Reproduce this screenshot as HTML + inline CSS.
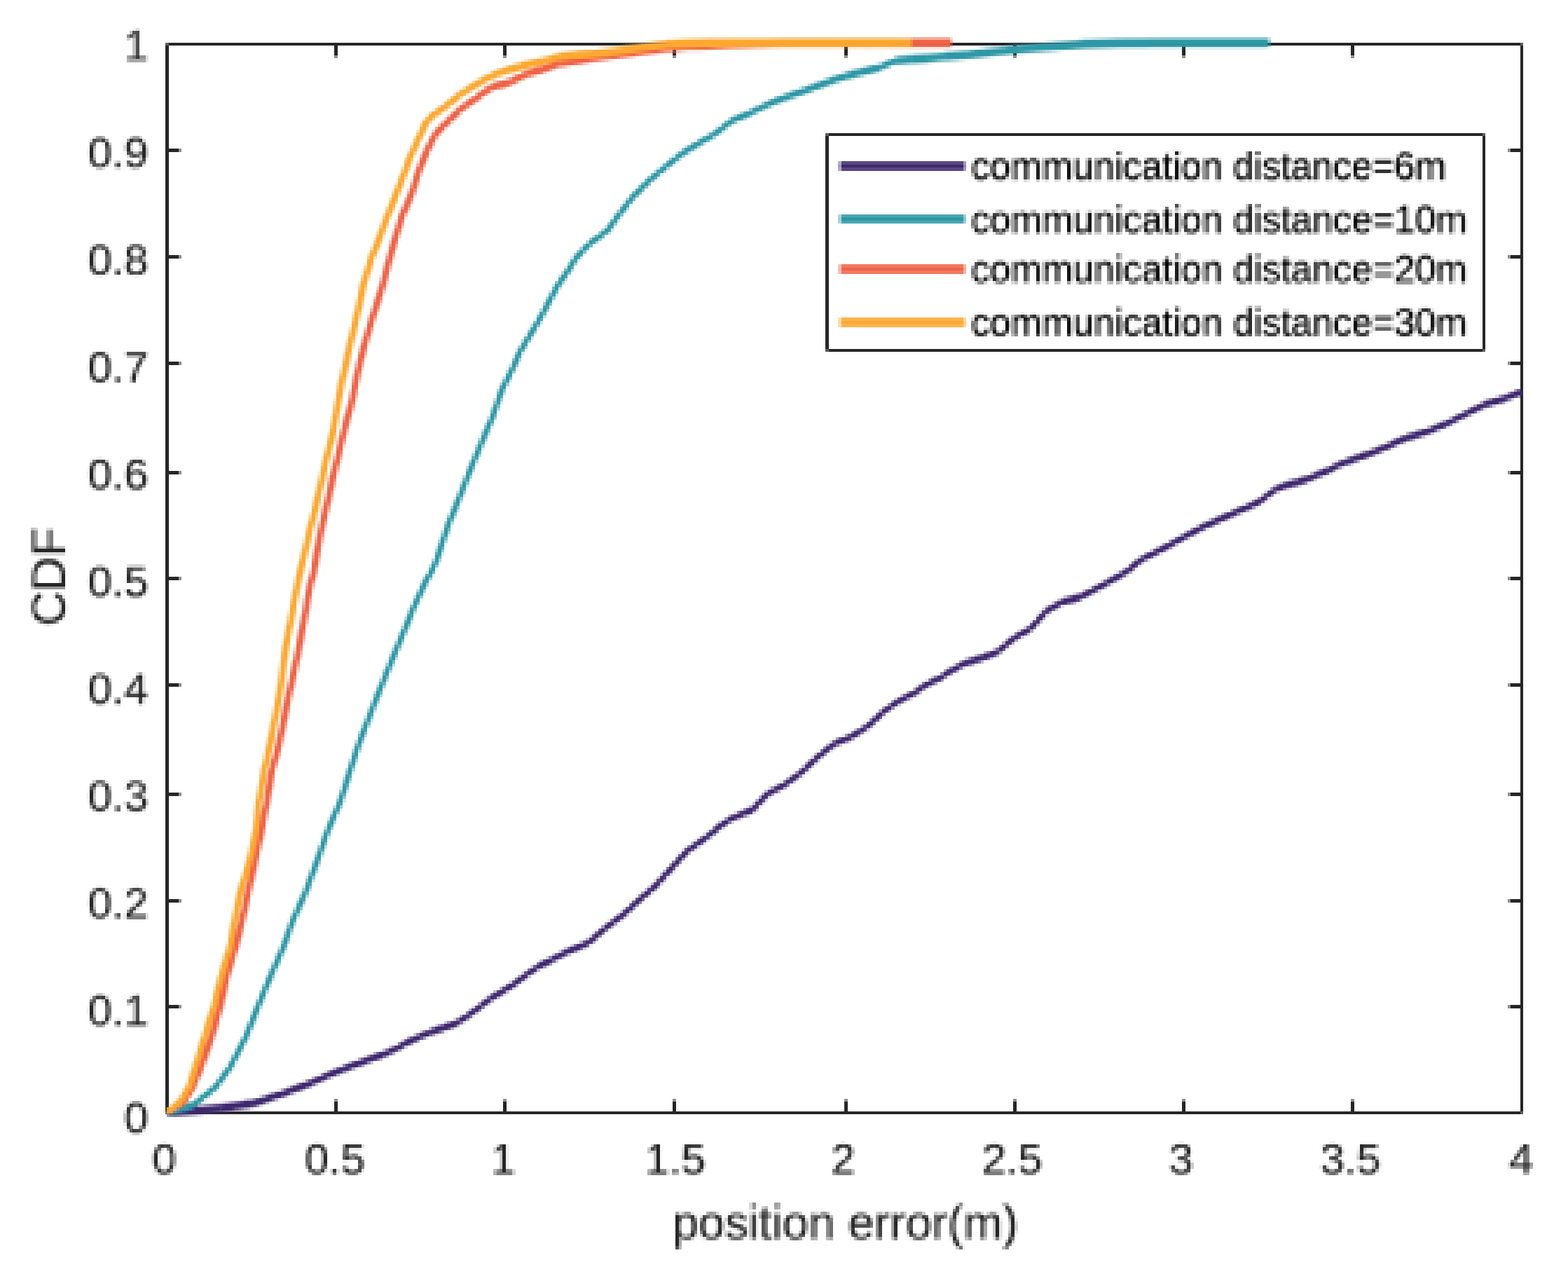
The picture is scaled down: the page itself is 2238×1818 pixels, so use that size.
<!DOCTYPE html>
<html lang="en"><head><meta charset="utf-8"><title>CDF of position error</title>
<style>html,body{margin:0;padding:0;background:#fff}body{width:2238px;height:1818px;overflow:hidden}svg{display:block}text{font-family:"Liberation Sans",Arial,Helvetica,sans-serif}</style>
</head><body>
<svg xmlns="http://www.w3.org/2000/svg" width="2238" height="1818" viewBox="0 0 2238 1818">
<defs>
<filter id="pix" x="0" y="0" width="2244" height="1826" filterUnits="userSpaceOnUse" primitiveUnits="userSpaceOnUse" color-interpolation-filters="sRGB">
<feConvolveMatrix in="SourceGraphic" order="5" kernelMatrix="1 1 1 1 1 1 1 1 1 1 1 1 1 1 1 1 1 1 1 1 1 1 1 1 1" divisor="25" edgeMode="none" preserveAlpha="false" result="avg"/>
<feFlood x="2" y="0" width="1" height="22" flood-color="#000" flood-opacity="1" result="v0"/>
<feFlood x="0" y="2" width="22" height="1" flood-color="#000" flood-opacity="1" result="h0"/>
<feFlood x="7" y="0" width="1" height="22" flood-color="#000" flood-opacity="1" result="v1"/>
<feFlood x="0" y="7" width="22" height="1" flood-color="#000" flood-opacity="1" result="h1"/>
<feFlood x="11" y="0" width="1" height="22" flood-color="#000" flood-opacity="1" result="v2"/>
<feFlood x="0" y="11" width="22" height="1" flood-color="#000" flood-opacity="1" result="h2"/>
<feFlood x="15" y="0" width="1" height="22" flood-color="#000" flood-opacity="1" result="v3"/>
<feFlood x="0" y="15" width="22" height="1" flood-color="#000" flood-opacity="1" result="h3"/>
<feFlood x="20" y="0" width="1" height="22" flood-color="#000" flood-opacity="1" result="v4"/>
<feFlood x="0" y="20" width="22" height="1" flood-color="#000" flood-opacity="1" result="h4"/>
<feMerge x="0" y="0" width="22" height="22" result="vs"><feMergeNode in="v0"/><feMergeNode in="v1"/><feMergeNode in="v2"/><feMergeNode in="v3"/><feMergeNode in="v4"/></feMerge>
<feMerge x="0" y="0" width="22" height="22" result="hs"><feMergeNode in="h0"/><feMergeNode in="h1"/><feMergeNode in="h2"/><feMergeNode in="h3"/><feMergeNode in="h4"/></feMerge>
<feComposite in="vs" in2="hs" operator="in" x="0" y="0" width="22" height="22" result="cell"/>
<feTile in="cell" result="grid"/>
<feComposite in="avg" in2="grid" operator="in" result="smp"/>
<feMorphology in="smp" operator="dilate" radius="2"/>
</filter>
</defs>
<rect x="0" y="0" width="2238" height="1818" fill="#ffffff"/>
<g id="axes" fill="#262626" shape-rendering="crispEdges">
<rect x="236" y="61" width="5" height="1529"/>
<rect x="2170" y="61" width="4" height="1529"/>
<rect x="236" y="61" width="1938" height="4"/>
<rect x="236" y="1586" width="1938" height="4"/>
<rect x="477" y="1572" width="5" height="14"/><rect x="477" y="1568" width="5" height="4" fill="#919191"/>
<rect x="477" y="65" width="5" height="14"/><rect x="477" y="79" width="5" height="4" fill="#919191"/>
<rect x="718" y="1572" width="5" height="14"/><rect x="718" y="1568" width="5" height="4" fill="#919191"/>
<rect x="718" y="65" width="5" height="14"/><rect x="718" y="79" width="5" height="4" fill="#919191"/>
<rect x="960" y="1572" width="5" height="14"/><rect x="960" y="1568" width="5" height="4" fill="#919191"/>
<rect x="960" y="65" width="5" height="14"/><rect x="960" y="79" width="5" height="4" fill="#919191"/>
<rect x="1205" y="1572" width="5" height="14"/><rect x="1205" y="1568" width="5" height="4" fill="#919191"/>
<rect x="1205" y="65" width="5" height="14"/><rect x="1205" y="79" width="5" height="4" fill="#919191"/>
<rect x="1446" y="1572" width="5" height="14"/><rect x="1446" y="1568" width="5" height="4" fill="#919191"/>
<rect x="1446" y="65" width="5" height="14"/><rect x="1446" y="79" width="5" height="4" fill="#919191"/>
<rect x="1687" y="1572" width="5" height="14"/><rect x="1687" y="1568" width="5" height="4" fill="#919191"/>
<rect x="1687" y="65" width="5" height="14"/><rect x="1687" y="79" width="5" height="4" fill="#919191"/>
<rect x="1928" y="1572" width="5" height="14"/><rect x="1928" y="1568" width="5" height="4" fill="#919191"/>
<rect x="1928" y="65" width="5" height="14"/><rect x="1928" y="79" width="5" height="4" fill="#919191"/>
<rect x="241" y="1434" width="14" height="5"/><rect x="255" y="1434" width="4" height="5" fill="#919191"/>
<rect x="2156" y="1434" width="14" height="5"/><rect x="2152" y="1434" width="4" height="5" fill="#919191"/>
<rect x="241" y="1283" width="14" height="5"/><rect x="255" y="1283" width="4" height="5" fill="#919191"/>
<rect x="2156" y="1283" width="14" height="5"/><rect x="2152" y="1283" width="4" height="5" fill="#919191"/>
<rect x="241" y="1131" width="14" height="5"/><rect x="255" y="1131" width="4" height="5" fill="#919191"/>
<rect x="2156" y="1131" width="14" height="5"/><rect x="2152" y="1131" width="4" height="5" fill="#919191"/>
<rect x="241" y="975" width="14" height="5"/><rect x="255" y="975" width="4" height="5" fill="#919191"/>
<rect x="2156" y="975" width="14" height="5"/><rect x="2152" y="975" width="4" height="5" fill="#919191"/>
<rect x="241" y="823" width="14" height="5"/><rect x="255" y="823" width="4" height="5" fill="#919191"/>
<rect x="2156" y="823" width="14" height="5"/><rect x="2152" y="823" width="4" height="5" fill="#919191"/>
<rect x="241" y="672" width="14" height="5"/><rect x="255" y="672" width="4" height="5" fill="#919191"/>
<rect x="2156" y="672" width="14" height="5"/><rect x="2152" y="672" width="4" height="5" fill="#919191"/>
<rect x="241" y="516" width="14" height="5"/><rect x="255" y="516" width="4" height="5" fill="#919191"/>
<rect x="2156" y="516" width="14" height="5"/><rect x="2152" y="516" width="4" height="5" fill="#919191"/>
<rect x="241" y="364" width="14" height="5"/><rect x="255" y="364" width="4" height="5" fill="#919191"/>
<rect x="2156" y="364" width="14" height="5"/><rect x="2152" y="364" width="4" height="5" fill="#919191"/>
<rect x="241" y="212" width="14" height="5"/><rect x="255" y="212" width="4" height="5" fill="#919191"/>
<rect x="2156" y="212" width="14" height="5"/><rect x="2152" y="212" width="4" height="5" fill="#919191"/>
<rect x="236" y="61" width="5" height="4" fill="#5E5E5E"/>
<rect x="2170" y="61" width="4" height="4" fill="#5E5E5E"/>
<rect x="236" y="1586" width="5" height="4" fill="#5E5E5E"/>
<rect x="2170" y="1586" width="4" height="4" fill="#5E5E5E"/>
</g>
<g id="legend-box" shape-rendering="crispEdges">
<rect x="1178" y="190" width="942" height="312" fill="#ffffff"/>
<rect x="1178" y="190" width="942" height="4" fill="#262626"/>
<rect x="1178" y="498" width="942" height="4" fill="#262626"/>
<rect x="1178" y="190" width="5" height="312" fill="#262626"/>
<rect x="2116" y="190" width="4" height="312" fill="#262626"/>
<rect x="1178" y="190" width="5" height="4" fill="#5E5E5E"/>
<rect x="2116" y="190" width="4" height="4" fill="#5E5E5E"/>
<rect x="1178" y="498" width="5" height="4" fill="#5E5E5E"/>
<rect x="2116" y="498" width="4" height="4" fill="#5E5E5E"/>
<rect x="1201" y="230" width="174" height="5" fill="#594682"/>
<rect x="1196" y="230" width="5" height="5" fill="#B4ACC7"/>
<rect x="1375" y="230" width="4" height="5" fill="#A499BA"/>
<rect x="1201" y="235" width="174" height="4" fill="#3E286E"/>
<rect x="1196" y="235" width="5" height="4" fill="#A89EBE"/>
<rect x="1375" y="235" width="4" height="4" fill="#9589AF"/>
<rect x="1201" y="239" width="174" height="5" fill="#594682"/>
<rect x="1196" y="239" width="5" height="5" fill="#B4ACC7"/>
<rect x="1375" y="239" width="4" height="5" fill="#A499BA"/>
<rect x="1201" y="306" width="174" height="4" fill="#4BA6B2"/>
<rect x="1196" y="306" width="5" height="4" fill="#AED7DC"/>
<rect x="1375" y="306" width="4" height="4" fill="#9CCED5"/>
<rect x="1201" y="310" width="174" height="5" fill="#2E98A6"/>
<rect x="1196" y="310" width="5" height="5" fill="#A1D1D7"/>
<rect x="1375" y="310" width="4" height="5" fill="#8CC6CE"/>
<rect x="1201" y="315" width="174" height="4" fill="#4BA6B2"/>
<rect x="1196" y="315" width="5" height="4" fill="#AED7DC"/>
<rect x="1375" y="315" width="4" height="4" fill="#9CCED5"/>
<rect x="1201" y="377" width="174" height="5" fill="#F27860"/>
<rect x="1196" y="377" width="5" height="5" fill="#F9C2B7"/>
<rect x="1375" y="377" width="4" height="5" fill="#F8B5A8"/>
<rect x="1201" y="382" width="174" height="4" fill="#F06246"/>
<rect x="1196" y="382" width="5" height="4" fill="#F8B8AC"/>
<rect x="1375" y="382" width="4" height="4" fill="#F7A999"/>
<rect x="1201" y="386" width="174" height="5" fill="#F27860"/>
<rect x="1196" y="386" width="5" height="5" fill="#F9C2B7"/>
<rect x="1375" y="386" width="4" height="5" fill="#F8B5A8"/>
<rect x="1201" y="453" width="174" height="5" fill="#FFB44D"/>
<rect x="1196" y="453" width="5" height="5" fill="#FFDDAF"/>
<rect x="1375" y="453" width="4" height="5" fill="#FFD69D"/>
<rect x="1201" y="458" width="174" height="4" fill="#FFA830"/>
<rect x="1196" y="458" width="5" height="4" fill="#FFD8A2"/>
<rect x="1375" y="458" width="4" height="4" fill="#FFCF8D"/>
<rect x="1201" y="462" width="174" height="5" fill="#FFB44D"/>
<rect x="1196" y="462" width="5" height="5" fill="#FFDDAF"/>
<rect x="1375" y="462" width="4" height="5" fill="#FFD69D"/>
</g>
<g id="plot" filter="url(#pix)">
<g id="curves">
<polyline points="238.5,1587.5 255.8,1586.3 273.2,1585.1 294.8,1583.2 316.4,1581.3" fill="none" stroke="#3E286E" stroke-width="11.5" stroke-linejoin="round" stroke-linecap="butt"/>
<polyline points="316.4,1581.3 338.0,1578.3 359.6,1575.2" fill="none" stroke="#3E286E" stroke-width="11.0" stroke-linejoin="round" stroke-linecap="butt"/>
<polyline points="359.6,1575.2 381.2,1568.1 402.8,1561.0" fill="none" stroke="#3E286E" stroke-width="9.5" stroke-linejoin="round" stroke-linecap="butt"/>
<polyline points="402.8,1561.0 424.4,1552.8 446.0,1544.5" fill="none" stroke="#3E286E" stroke-width="9.0" stroke-linejoin="round" stroke-linecap="butt"/>
<polyline points="446.0,1544.5 467.6,1534.7 489.3,1525.9" fill="none" stroke="#3E286E" stroke-width="8.5" stroke-linejoin="round" stroke-linecap="butt"/>
<polyline points="489.3,1525.9 509.6,1518.2 530.0,1510.7 547.0,1504.6" fill="none" stroke="#3E286E" stroke-width="9.0" stroke-linejoin="round" stroke-linecap="butt"/>
<polyline points="547.0,1504.6 564.0,1497.3" fill="none" stroke="#3E286E" stroke-width="8.5" stroke-linejoin="round" stroke-linecap="butt"/>
<polyline points="564.0,1497.3 581.0,1487.7" fill="none" stroke="#3E286E" stroke-width="8.0" stroke-linejoin="round" stroke-linecap="butt"/>
<polyline points="581.0,1487.7 598.5,1479.6 616.0,1472.3" fill="none" stroke="#3E286E" stroke-width="8.5" stroke-linejoin="round" stroke-linecap="butt"/>
<polyline points="616.0,1472.3 633.6,1466.7" fill="none" stroke="#3E286E" stroke-width="9.5" stroke-linejoin="round" stroke-linecap="butt"/>
<polyline points="633.6,1466.7 651.1,1460.1" fill="none" stroke="#3E286E" stroke-width="9.0" stroke-linejoin="round" stroke-linecap="butt"/>
<polyline points="651.1,1460.1 667.4,1449.8" fill="none" stroke="#3E286E" stroke-width="8.0" stroke-linejoin="round" stroke-linecap="butt"/>
<polyline points="667.4,1449.8 683.7,1437.8 700.0,1425.0" fill="none" stroke="#3E286E" stroke-width="7.5" stroke-linejoin="round" stroke-linecap="butt"/>
<polyline points="700.0,1425.0 717.5,1414.3 735.1,1403.3" fill="none" stroke="#3E286E" stroke-width="8.0" stroke-linejoin="round" stroke-linecap="butt"/>
<polyline points="735.1,1403.3 752.7,1389.9 770.2,1378.1" fill="none" stroke="#3E286E" stroke-width="7.5" stroke-linejoin="round" stroke-linecap="butt"/>
<polyline points="770.2,1378.1 787.8,1369.6" fill="none" stroke="#3E286E" stroke-width="8.5" stroke-linejoin="round" stroke-linecap="butt"/>
<polyline points="787.8,1369.6 805.3,1360.2" fill="none" stroke="#3E286E" stroke-width="8.0" stroke-linejoin="round" stroke-linecap="butt"/>
<polyline points="805.3,1360.2 822.8,1352.6 840.4,1345.1" fill="none" stroke="#3E286E" stroke-width="8.5" stroke-linejoin="round" stroke-linecap="butt"/>
<polyline points="840.4,1345.1 859.1,1328.5 873.2,1317.4 887.2,1307.1 898.9,1296.7 910.6,1285.6 922.3,1275.6 934.0,1265.7 945.7,1252.9 957.4,1240.0 969.1,1227.1 980.8,1214.3 992.5,1206.1 1004.2,1197.9 1015.9,1188.9 1027.6,1178.9 1039.3,1170.8" fill="none" stroke="#3E286E" stroke-width="7.5" stroke-linejoin="round" stroke-linecap="butt"/>
<polyline points="1039.3,1170.8 1051.0,1164.9" fill="none" stroke="#3E286E" stroke-width="8.0" stroke-linejoin="round" stroke-linecap="butt"/>
<polyline points="1051.0,1164.9 1062.7,1160.2" fill="none" stroke="#3E286E" stroke-width="8.5" stroke-linejoin="round" stroke-linecap="butt"/>
<polyline points="1062.7,1160.2 1074.4,1155.6" fill="none" stroke="#3E286E" stroke-width="9.0" stroke-linejoin="round" stroke-linecap="butt"/>
<polyline points="1074.4,1155.6 1086.1,1142.6 1097.7,1131.2" fill="none" stroke="#3E286E" stroke-width="7.5" stroke-linejoin="round" stroke-linecap="butt"/>
<polyline points="1097.7,1131.2 1109.4,1125.6 1121.1,1119.1" fill="none" stroke="#3E286E" stroke-width="8.0" stroke-linejoin="round" stroke-linecap="butt"/>
<polyline points="1121.1,1119.1 1132.2,1110.8 1143.4,1102.6 1155.1,1091.5 1166.8,1080.5 1178.5,1071.1 1190.2,1061.7" fill="none" stroke="#3E286E" stroke-width="7.5" stroke-linejoin="round" stroke-linecap="butt"/>
<polyline points="1190.2,1061.7 1201.9,1056.6 1213.6,1052.0" fill="none" stroke="#3E286E" stroke-width="8.5" stroke-linejoin="round" stroke-linecap="butt"/>
<polyline points="1213.6,1052.0 1225.3,1044.9" fill="none" stroke="#3E286E" stroke-width="8.0" stroke-linejoin="round" stroke-linecap="butt"/>
<polyline points="1225.3,1044.9 1237.0,1037.3 1248.7,1027.3 1260.4,1016.0 1272.1,1007.8 1283.8,999.7" fill="none" stroke="#3E286E" stroke-width="7.5" stroke-linejoin="round" stroke-linecap="butt"/>
<polyline points="1283.8,999.7 1307.2,987.8" fill="none" stroke="#3E286E" stroke-width="8.0" stroke-linejoin="round" stroke-linecap="butt"/>
<polyline points="1307.2,987.8 1318.9,978.7" fill="none" stroke="#3E286E" stroke-width="7.5" stroke-linejoin="round" stroke-linecap="butt"/>
<polyline points="1318.9,978.7 1330.6,972.8" fill="none" stroke="#3E286E" stroke-width="8.0" stroke-linejoin="round" stroke-linecap="butt"/>
<polyline points="1330.6,972.8 1342.3,967.3" fill="none" stroke="#3E286E" stroke-width="8.5" stroke-linejoin="round" stroke-linecap="butt"/>
<polyline points="1342.3,967.3 1354.0,959.2" fill="none" stroke="#3E286E" stroke-width="7.5" stroke-linejoin="round" stroke-linecap="butt"/>
<polyline points="1354.0,959.2 1365.7,952.8 1377.4,946.3" fill="none" stroke="#3E286E" stroke-width="8.0" stroke-linejoin="round" stroke-linecap="butt"/>
<polyline points="1377.4,946.3 1389.1,942.7 1400.8,939.2" fill="none" stroke="#3E286E" stroke-width="9.5" stroke-linejoin="round" stroke-linecap="butt"/>
<polyline points="1400.8,939.2 1412.5,934.8" fill="none" stroke="#3E286E" stroke-width="9.0" stroke-linejoin="round" stroke-linecap="butt"/>
<polyline points="1412.5,934.8 1424.2,930.1" fill="none" stroke="#3E286E" stroke-width="8.5" stroke-linejoin="round" stroke-linecap="butt"/>
<polyline points="1424.2,930.1 1435.9,920.2 1447.6,910.3" fill="none" stroke="#3E286E" stroke-width="7.5" stroke-linejoin="round" stroke-linecap="butt"/>
<polyline points="1447.6,910.3 1459.3,903.8 1471.0,897.0" fill="none" stroke="#3E286E" stroke-width="8.0" stroke-linejoin="round" stroke-linecap="butt"/>
<polyline points="1471.0,897.0 1482.7,884.1 1494.4,871.2" fill="none" stroke="#3E286E" stroke-width="7.5" stroke-linejoin="round" stroke-linecap="butt"/>
<polyline points="1494.4,871.2 1506.1,864.8 1517.8,858.4" fill="none" stroke="#3E286E" stroke-width="8.0" stroke-linejoin="round" stroke-linecap="butt"/>
<polyline points="1517.8,858.4 1541.2,852.3" fill="none" stroke="#3E286E" stroke-width="10.0" stroke-linejoin="round" stroke-linecap="butt"/>
<polyline points="1541.2,852.3 1552.9,846.0 1564.6,840.2 1576.3,833.7 1588.0,827.3 1608.0,815.8" fill="none" stroke="#3E286E" stroke-width="8.0" stroke-linejoin="round" stroke-linecap="butt"/>
<polyline points="1608.0,815.8 1628.1,799.0" fill="none" stroke="#3E286E" stroke-width="7.5" stroke-linejoin="round" stroke-linecap="butt"/>
<polyline points="1628.1,799.0 1642.1,791.9 1656.1,784.9 1670.2,777.2 1684.2,769.5 1698.2,761.9 1712.3,754.2" fill="none" stroke="#3E286E" stroke-width="8.0" stroke-linejoin="round" stroke-linecap="butt"/>
<polyline points="1712.3,754.2 1726.3,747.7 1740.4,741.3 1754.4,735.2 1768.4,728.9 1782.5,722.8 1796.5,716.5" fill="none" stroke="#3E286E" stroke-width="8.5" stroke-linejoin="round" stroke-linecap="butt"/>
<polyline points="1796.5,716.5 1807.8,707.9 1819.0,699.1" fill="none" stroke="#3E286E" stroke-width="7.5" stroke-linejoin="round" stroke-linecap="butt"/>
<polyline points="1819.0,699.1 1838.6,691.3" fill="none" stroke="#3E286E" stroke-width="8.5" stroke-linejoin="round" stroke-linecap="butt"/>
<polyline points="1838.6,691.3 1852.7,687.9" fill="none" stroke="#3E286E" stroke-width="10.0" stroke-linejoin="round" stroke-linecap="butt"/>
<polyline points="1852.7,687.9 1866.7,683.6" fill="none" stroke="#3E286E" stroke-width="9.5" stroke-linejoin="round" stroke-linecap="butt"/>
<polyline points="1866.7,683.6 1880.8,677.2" fill="none" stroke="#3E286E" stroke-width="8.5" stroke-linejoin="round" stroke-linecap="butt"/>
<polyline points="1880.8,677.2 1894.8,672.0" fill="none" stroke="#3E286E" stroke-width="9.0" stroke-linejoin="round" stroke-linecap="butt"/>
<polyline points="1894.8,672.0 1908.8,664.2" fill="none" stroke="#3E286E" stroke-width="8.0" stroke-linejoin="round" stroke-linecap="butt"/>
<polyline points="1908.8,664.2 1922.9,658.6" fill="none" stroke="#3E286E" stroke-width="8.5" stroke-linejoin="round" stroke-linecap="butt"/>
<polyline points="1922.9,658.6 1936.9,653.7 1950.9,648.8" fill="none" stroke="#3E286E" stroke-width="9.0" stroke-linejoin="round" stroke-linecap="butt"/>
<polyline points="1950.9,648.8 1965.0,643.2 1979.0,637.6 1993.0,631.2 2007.1,624.9" fill="none" stroke="#3E286E" stroke-width="8.5" stroke-linejoin="round" stroke-linecap="butt"/>
<polyline points="2007.1,624.9 2021.2,620.7 2035.2,616.5" fill="none" stroke="#3E286E" stroke-width="9.5" stroke-linejoin="round" stroke-linecap="butt"/>
<polyline points="2035.2,616.5 2049.2,610.9 2063.2,605.3" fill="none" stroke="#3E286E" stroke-width="8.5" stroke-linejoin="round" stroke-linecap="butt"/>
<polyline points="2063.2,605.3 2077.2,598.2 2091.3,591.2 2105.4,584.2 2119.4,577.2" fill="none" stroke="#3E286E" stroke-width="8.0" stroke-linejoin="round" stroke-linecap="butt"/>
<polyline points="2119.4,577.2 2133.4,573.0 2147.5,568.8" fill="none" stroke="#3E286E" stroke-width="9.5" stroke-linejoin="round" stroke-linecap="butt"/>
<polyline points="2147.5,568.8 2159.8,563.9 2172.0,559.0" fill="none" stroke="#3E286E" stroke-width="8.5" stroke-linejoin="round" stroke-linecap="butt"/>
<polyline points="238.5,1587.5 256.9,1582.5 275.4,1577.6" fill="none" stroke="#2E98A6" stroke-width="10.0" stroke-linejoin="round" stroke-linecap="butt"/>
<polyline points="275.4,1577.6 289.4,1566.0 307.3,1551.6 317.9,1537.2 328.5,1522.8 339.7,1501.2 350.9,1479.6 359.5,1458.0 368.1,1436.4 377.0,1414.8 386.0,1393.2 395.6,1371.6 405.1,1350.0 411.0,1333.0 416.9,1316.0 426.6,1294.4 436.3,1272.8 444.2,1251.2 452.2,1229.6 459.8,1208.0 467.3,1186.4 476.6,1164.8 486.0,1143.2 492.8,1121.6 499.6,1100.0 505.7,1081.0 511.9,1062.0 519.7,1041.7 527.6,1021.5 535.4,1001.2 543.3,981.7 551.1,962.2 559.0,942.7 566.8,924.0 574.7,905.3 582.5,886.6 589.8,867.9 598.6,849.1 607.1,830.4 616.1,815.2 622.9,800.0 628.8,781.9 634.8,763.8 640.8,745.7 648.7,727.6 656.3,708.1 664.0,688.6 671.7,669.1 679.8,649.6 688.0,630.1 696.2,610.6 703.3,594.3 709.8,575.3 716.3,556.2 724.9,539.3 733.4,522.1 741.7,502.6 753.4,483.1 765.0,464.2 776.7,443.5 787.2,423.4 797.8,404.6 809.5,388.2 821.2,369.3 832.9,356.4 844.6,345.2 856.3,337.1 868.0,327.8 880.0,310.7 903.4,280.8 926.8,257.5 950.2,237.9 973.6,219.0" fill="none" stroke="#2E98A6" stroke-width="7.5" stroke-linejoin="round" stroke-linecap="butt"/>
<polyline points="973.6,219.0 997.0,204.6 1020.4,191.1" fill="none" stroke="#2E98A6" stroke-width="8.0" stroke-linejoin="round" stroke-linecap="butt"/>
<polyline points="1020.4,191.1 1043.8,172.7" fill="none" stroke="#2E98A6" stroke-width="7.5" stroke-linejoin="round" stroke-linecap="butt"/>
<polyline points="1043.8,172.7 1067.2,162.8" fill="none" stroke="#2E98A6" stroke-width="8.5" stroke-linejoin="round" stroke-linecap="butt"/>
<polyline points="1067.2,162.8 1090.6,151.5" fill="none" stroke="#2E98A6" stroke-width="8.0" stroke-linejoin="round" stroke-linecap="butt"/>
<polyline points="1090.6,151.5 1114.0,141.4" fill="none" stroke="#2E98A6" stroke-width="8.5" stroke-linejoin="round" stroke-linecap="butt"/>
<polyline points="1114.0,141.4 1137.4,133.2 1160.8,125.0 1184.2,116.0" fill="none" stroke="#2E98A6" stroke-width="9.0" stroke-linejoin="round" stroke-linecap="butt"/>
<polyline points="1184.2,116.0 1207.6,108.4" fill="none" stroke="#2E98A6" stroke-width="9.5" stroke-linejoin="round" stroke-linecap="butt"/>
<polyline points="1207.6,108.4 1231.0,102.6 1254.4,96.7" fill="none" stroke="#2E98A6" stroke-width="10.0" stroke-linejoin="round" stroke-linecap="butt"/>
<polyline points="1254.4,96.7 1277.8,86.8" fill="none" stroke="#2E98A6" stroke-width="8.5" stroke-linejoin="round" stroke-linecap="butt"/>
<polyline points="1277.8,86.8 1301.2,84.5" fill="none" stroke="#2E98A6" stroke-width="11.0" stroke-linejoin="round" stroke-linecap="butt"/>
<polyline points="1301.2,84.5 1324.6,83.3" fill="none" stroke="#2E98A6" stroke-width="11.5" stroke-linejoin="round" stroke-linecap="butt"/>
<polyline points="1324.6,83.3 1348.0,80.9" fill="none" stroke="#2E98A6" stroke-width="11.0" stroke-linejoin="round" stroke-linecap="butt"/>
<polyline points="1348.0,80.9 1364.0,79.8 1380.0,78.6" fill="none" stroke="#2E98A6" stroke-width="11.5" stroke-linejoin="round" stroke-linecap="butt"/>
<polyline points="1380.0,78.6 1393.4,76.8 1406.8,75.0 1430.2,72.7 1453.6,70.3" fill="none" stroke="#2E98A6" stroke-width="11.0" stroke-linejoin="round" stroke-linecap="butt"/>
<polyline points="1453.6,70.3 1476.8,68.5 1500.0,66.8 1523.5,64.9 1547.0,63.0 1570.5,62.2 1594.0,61.5 1612.7,61.3 1631.3,61.2 1650.0,61.0 1673.1,61.0 1696.2,61.0 1719.3,61.0 1742.3,61.0 1765.4,61.0 1788.5,61.0 1811.6,61.0" fill="none" stroke="#2E98A6" stroke-width="11.5" stroke-linejoin="round" stroke-linecap="butt"/>
<polyline points="238.5,1587.5 250.1,1580.3 261.7,1573.2 268.1,1562.4 274.5,1551.6 280.6,1537.2 286.7,1522.8 294.3,1501.2 301.9,1479.6 308.0,1458.0 314.1,1436.4 318.8,1414.8 323.5,1393.2 329.9,1371.6 336.4,1350.0 340.6,1333.0 344.8,1316.0 349.5,1294.4 354.2,1272.8 358.9,1251.2 363.5,1229.6 368.2,1208.0 372.9,1186.4 376.9,1164.8 380.8,1143.2 384.4,1121.6 388.0,1100.0 392.8,1082.2 397.7,1064.4 402.4,1041.0 407.0,1017.6 411.7,994.2 415.6,976.3 419.5,958.3 423.4,940.4 427.3,920.1 431.1,899.9 435.0,879.6 438.7,856.2 443.3,832.8 447.8,816.4 450.3,800.0 454.8,775.9 459.3,751.7 465.0,727.6 470.1,704.2 475.2,680.8 480.9,657.4 485.6,637.9 490.2,618.4 495.0,598.9 500.9,579.4 504.9,559.9 508.8,540.4 513.7,517.0 519.8,493.6 526.5,470.2 533.6,446.8 540.0,427.0 546.2,407.2 551.3,387.4 556.4,367.6 561.9,348.1 567.6,328.6 573.4,309.1 581.2,291.6 588.5,274.0 593.5,257.6 598.7,241.2 604.5,227.1 610.3,213.1 616.1,201.4 622.9,189.7 633.2,179.2 638.7,174.1 648.0,164.9 657.4,155.7 669.1,147.6 680.8,139.4 692.5,130.3" fill="none" stroke="#F06246" stroke-width="8.5" stroke-linejoin="round" stroke-linecap="butt"/>
<polyline points="692.5,130.3 704.2,123.7" fill="none" stroke="#F06246" stroke-width="9.0" stroke-linejoin="round" stroke-linecap="butt"/>
<polyline points="704.2,123.7 727.6,117.4" fill="none" stroke="#F06246" stroke-width="10.0" stroke-linejoin="round" stroke-linecap="butt"/>
<polyline points="727.6,117.4 739.3,111.6 751.0,105.6" fill="none" stroke="#F06246" stroke-width="9.0" stroke-linejoin="round" stroke-linecap="butt"/>
<polyline points="751.0,105.6 774.4,99.1" fill="none" stroke="#F06246" stroke-width="10.0" stroke-linejoin="round" stroke-linecap="butt"/>
<polyline points="774.4,99.1 797.8,90.5" fill="none" stroke="#F06246" stroke-width="9.5" stroke-linejoin="round" stroke-linecap="butt"/>
<polyline points="797.8,90.5 821.2,86.8 844.6,82.7 868.0,79.8 884.0,77.4 900.0,75.1 916.7,72.9 933.3,70.8 950.0,68.7" fill="none" stroke="#F06246" stroke-width="11.0" stroke-linejoin="round" stroke-linecap="butt"/>
<polyline points="950.0,68.7 966.7,67.2 983.3,65.6 1000.0,65.8 1044.0,63.3 1081.0,62.0 1120.0,61.0 1150.0,61.0 1173.0,61.0 1196.1,61.0 1219.1,61.0 1242.1,61.0 1265.2,61.0 1288.2,61.0 1311.2,61.0 1334.3,61.0 1357.3,61.0" fill="none" stroke="#F06246" stroke-width="11.5" stroke-linejoin="round" stroke-linecap="butt"/>
<polyline points="238.5,1587.5 256.8,1573.2 263.3,1562.4 269.8,1551.6 274.5,1537.2 279.1,1522.8 285.6,1501.2 292.1,1479.6 298.8,1458.0 305.5,1436.4 310.7,1414.8 315.9,1393.2 322.4,1371.6 328.8,1350.0 331.7,1333.0 334.7,1316.0 338.9,1294.4 343.2,1272.8 349.7,1251.2 356.1,1229.6 360.8,1208.0 365.4,1186.4 367.6,1164.8 369.7,1143.2 373.4,1121.6 377.2,1100.0 381.8,1078.7 386.5,1057.4 390.9,1034.0 395.3,1010.6 399.6,987.2 402.0,968.5 404.3,949.7 406.6,931.0 409.9,913.1 413.3,895.1 416.6,877.2 420.8,853.8 425.1,830.4 428.7,815.2 432.3,800.0 437.9,775.9 443.5,751.7 449.5,727.6 454.9,704.2 460.3,680.8 465.2,657.4 470.0,637.9 475.0,618.4 478.6,598.9 481.4,579.4 485.1,559.9 488.9,540.4 494.3,517.0 499.2,493.6 504.8,470.2 510.2,446.8 514.3,427.0 518.4,407.2 524.4,387.4 530.2,367.6 538.4,348.1 545.6,328.6 552.7,309.1 559.1,293.5 565.2,277.9 571.2,262.3 578.0,244.8 584.1,227.2 590.5,213.1 596.8,199.1 602.1,187.4 607.5,175.7 617.6,164.6 634.0,153.2 645.7,144.0 657.4,134.3 669.1,126.9" fill="none" stroke="#FFA830" stroke-width="8.5" stroke-linejoin="round" stroke-linecap="butt"/>
<polyline points="669.1,126.9 680.8,119.9 692.5,113.0 704.2,107.3" fill="none" stroke="#FFA830" stroke-width="9.0" stroke-linejoin="round" stroke-linecap="butt"/>
<polyline points="704.2,107.3 727.6,98.9" fill="none" stroke="#FFA830" stroke-width="9.5" stroke-linejoin="round" stroke-linecap="butt"/>
<polyline points="727.6,98.9 751.0,92.9 774.4,87.7" fill="none" stroke="#FFA830" stroke-width="10.5" stroke-linejoin="round" stroke-linecap="butt"/>
<polyline points="774.4,87.7 797.8,81.2" fill="none" stroke="#FFA830" stroke-width="10.0" stroke-linejoin="round" stroke-linecap="butt"/>
<polyline points="797.8,81.2 821.2,78.6" fill="none" stroke="#FFA830" stroke-width="11.0" stroke-linejoin="round" stroke-linecap="butt"/>
<polyline points="821.2,78.6 844.6,77.1" fill="none" stroke="#FFA830" stroke-width="11.5" stroke-linejoin="round" stroke-linecap="butt"/>
<polyline points="844.6,77.1 868.0,74.5 884.0,72.4 900.0,70.4 916.7,68.1 933.3,65.8 950.0,63.5" fill="none" stroke="#FFA830" stroke-width="11.0" stroke-linejoin="round" stroke-linecap="butt"/>
<polyline points="950.0,63.5 966.7,62.8 983.3,62.1 1000.0,61.5 1016.7,61.3 1033.3,61.2 1050.0,61.0 1072.8,61.0 1095.6,61.0 1118.5,61.0 1141.3,61.0 1164.1,61.0 1186.9,61.0 1209.7,61.0 1232.5,61.0 1255.4,61.0 1278.2,61.0 1301.0,61.0" fill="none" stroke="#FFA830" stroke-width="11.5" stroke-linejoin="round" stroke-linecap="butt"/>
</g>
<g id="ticklabels" font-size="62" fill="#262626">
<text x="234.5" y="1674.5" text-anchor="middle">0</text>
<text x="478.0" y="1674.5" text-anchor="middle">0.5</text>
<text x="718.5" y="1674.5" text-anchor="middle">1</text>
<text x="964.0" y="1674.5" text-anchor="middle">1.5</text>
<text x="1203.5" y="1674.5" text-anchor="middle">2</text>
<text x="1444.5" y="1674.5" text-anchor="middle">2.5</text>
<text x="1686.0" y="1674.5" text-anchor="middle">3</text>
<text x="1927.5" y="1674.5" text-anchor="middle">3.5</text>
<text x="2171.5" y="1674.5" text-anchor="middle">4</text>
<text x="211.5" y="1615.5" text-anchor="end">0</text>
<text x="211.5" y="1462.5" text-anchor="end">0.1</text>
<text x="211.5" y="1309.5" text-anchor="end">0.2</text>
<text x="211.5" y="1156.5" text-anchor="end">0.3</text>
<text x="211.5" y="1003.5" text-anchor="end">0.4</text>
<text x="211.5" y="850.5" text-anchor="end">0.5</text>
<text x="211.5" y="697.5" text-anchor="end">0.6</text>
<text x="211.5" y="544.5" text-anchor="end">0.7</text>
<text x="211.5" y="391.5" text-anchor="end">0.8</text>
<text x="211.5" y="238.5" text-anchor="end">0.9</text>
<text x="211.5" y="85.5" text-anchor="end">1</text>
</g>
<g id="axislabels" font-size="68.4" fill="#262626">
<text x="1206.5" y="1767.5" text-anchor="middle" textLength="494" lengthAdjust="spacingAndGlyphs">position error(m)</text>
<text transform="translate(93,823) rotate(-90)" x="0" y="0" text-anchor="middle">CDF</text>
</g>
<g id="legend-text" font-size="56" fill="#000000">
<text x="1386" y="255.5" textLength="678" lengthAdjust="spacingAndGlyphs">communication distance=6m</text>
<text x="1386" y="332" textLength="708" lengthAdjust="spacingAndGlyphs">communication distance=10m</text>
<text x="1386" y="403" textLength="708" lengthAdjust="spacingAndGlyphs">communication distance=20m</text>
<text x="1386" y="479" textLength="708" lengthAdjust="spacingAndGlyphs">communication distance=30m</text>
</g>
</g>
</svg>
</body></html>
